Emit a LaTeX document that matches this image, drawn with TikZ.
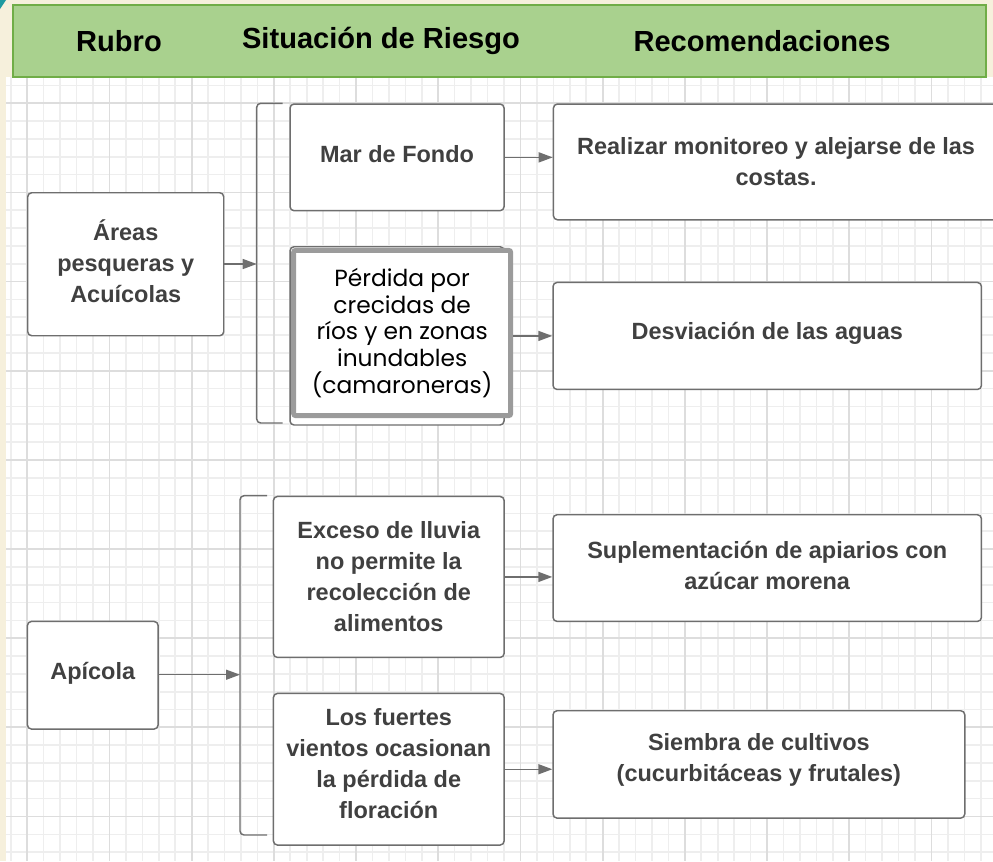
\documentclass[tikz,border=0pt]{standalone}
\usepackage{fontspec}
\setmainfont{Liberation Sans}
\newfontfamily\geofont{Poppins}
\usetikzlibrary{arrows.meta}
\definecolor{cream}{HTML}{F6F0DC}
\definecolor{hgreen}{HTML}{A9D18E}
\definecolor{hborder}{HTML}{70AD47}
\definecolor{linegray}{HTML}{6E6E6E}
\definecolor{textgray}{HTML}{404040}
\definecolor{minorgrid}{HTML}{EEEEEE}
\definecolor{majorgrid}{HTML}{DDDDDD}
\definecolor{thickgray}{HTML}{9B9B9B}
\definecolor{teal}{HTML}{1E9AA0}
\tikzset{
  box/.style={draw=linegray, line width=1.1pt, rounded corners=3pt, fill=white,
    inner sep=0pt, anchor=north west, align=center, text=textgray,
    font=\bfseries\fontsize{17.6}{23.3}\selectfont},
  thickbox/.style={draw=thickgray, line width=3.75pt, rounded corners=1.5pt, fill=white,
    inner sep=0pt, anchor=north west, align=center, text=black,
    font=\geofont\fontsize{17.5}{19.9}\selectfont},
  hdrtext/.style={font=\bfseries\fontsize{21.8}{26}\selectfont, text=black},
  arr/.style={draw=linegray, line width=1.1pt, -{Triangle[length=10.5pt,width=7.5pt]}},
  bracketline/.style={draw=linegray, line width=1.1pt, rounded corners=3pt},
  minorline/.style={draw=minorgrid, line width=1.2pt},
  majorline/.style={draw=majorgrid, line width=1.3pt}
}
\begin{document}
\begin{tikzpicture}[x=0.75pt,y=-0.75pt]
\useasboundingbox (0,0) rectangle (993,861);
\clip (0,0) rectangle (993,861);
% background
\fill[cream] (0,0) rectangle (993,861);
\fill[teal] (0,0) -- (6,0) -- (0,9) -- cycle;
\fill[white] (6,76.7) rectangle (993,861);
% grid
\foreach \i in {0,...,59} {
  \pgfmathsetmacro\xx{10.8+16.44*\i}
  \draw[minorline] (\xx,76.7) -- (\xx,861);
}
\foreach \i in {-1,...,42} {
  \pgfmathsetmacro\yy{103.3+17.83*\i}
  \draw[minorline] (6,\yy) -- (993,\yy);
}
\foreach \i in {0,...,11} {
  \pgfmathsetmacro\xx{27.3+82.2*\i}
  \draw[majorline] (\xx,76.7) -- (\xx,861);
}
\foreach \i in {0,...,8} {
  \pgfmathsetmacro\yy{103.3+89.15*\i}
  \draw[majorline] (6,\yy) -- (993,\yy);
}
% header
\node[draw=hborder, line width=1.3pt, fill=hgreen, inner sep=0pt, anchor=north west,
  minimum width=729.75pt, minimum height=54pt] (header) at (12,4) {};
\node[hdrtext] (hrubro) at (119,41) {Rubro};
\node[hdrtext] (hsit) at (381,41) {Situación de Riesgo};
\node[hdrtext] (hrec) at (762,41) {Recomendaciones};
% boxes column 1
\node[box, minimum width=147pt, minimum height=107.25pt, text depth=4.5pt] (areas) at (27,192)
  {Áreas\\pesqueras y\\Acuícolas};
\node[box, minimum width=98pt, minimum height=80.7pt, text depth=6.7pt] (apicola) at (26.7,620.7) {Apícola};
% column 2
\node[box, minimum width=160.5pt, minimum height=80pt, text depth=4.5pt] (mar) at (289.3,103.3) {Mar de Fondo};
\node[box, minimum width=160.5pt, minimum height=133.7pt] (perdidaback) at (289.3,246) {};
\node[thickbox, minimum width=162.7pt, minimum height=123.9pt] (perdida) at (291.2,247.9)
  {Pérdida por\\crecidas de\\ríos y en zonas\\inundables\\(camaroneras)};
\node[box, minimum width=173pt, minimum height=120.75pt] (exceso) at (272.7,495.7)
  {Exceso de lluvia\\no permite la\\recolección de\\alimentos};
\node[box, minimum width=173pt, minimum height=113.7pt, text depth=9pt] (fuertes) at (272.7,692.7)
  {Los fuertes\\vientos ocasionan\\la pérdida de\\floración};
% column 3
\node[box, minimum width=334pt, minimum height=86.8pt] (realizar) at (552.7,103.3)
  {Realizar monitoreo y alejarse de las\\costas.};
\node[box, minimum width=321.3pt, minimum height=80.25pt, text depth=8.2pt] (desv) at (552.3,281.7)
  {Desviación de las aguas};
\node[box, minimum width=321.3pt, minimum height=80pt, text depth=4.5pt] (supl) at (552.3,514)
  {Suplementación de apiarios con\\azúcar morena};
\node[box, minimum width=308.8pt, minimum height=80.5pt, text depth=9.7pt] (siembra) at (552.3,710)
  {Siembra de cultivos\\(cucurbitáceas y frutales)};
% brackets
\coordinate (br1t) at (282.7,103.3);
\coordinate (br1b) at (282.7,423);
\coordinate (br1) at (256.7,264);
\draw[bracketline] (br1t) -- (256.7,103.3) -- (256.7,423) -- (br1b);
\coordinate (br2t) at (267,495.7);
\coordinate (br2b) at (267,835);
\coordinate (br2) at (240,674.7);
\draw[bracketline] (br2t) -- (240,495.7) -- (240,835) -- (br2b);
% arrows
\draw[arr] (areas.east |- br1) -- (br1);
\draw[arr] (apicola.east |- br2) -- (br2);
\draw[arr] (mar.east) -- (realizar.west |- mar.east);
\draw[arr] (perdida.east |- desv.west) -- (desv.west);
\draw[arr] (exceso.east) -- (supl.west |- exceso.east);
\draw[arr] (fuertes.east) -- (siembra.west |- fuertes.east);
\end{tikzpicture}
\end{document}
